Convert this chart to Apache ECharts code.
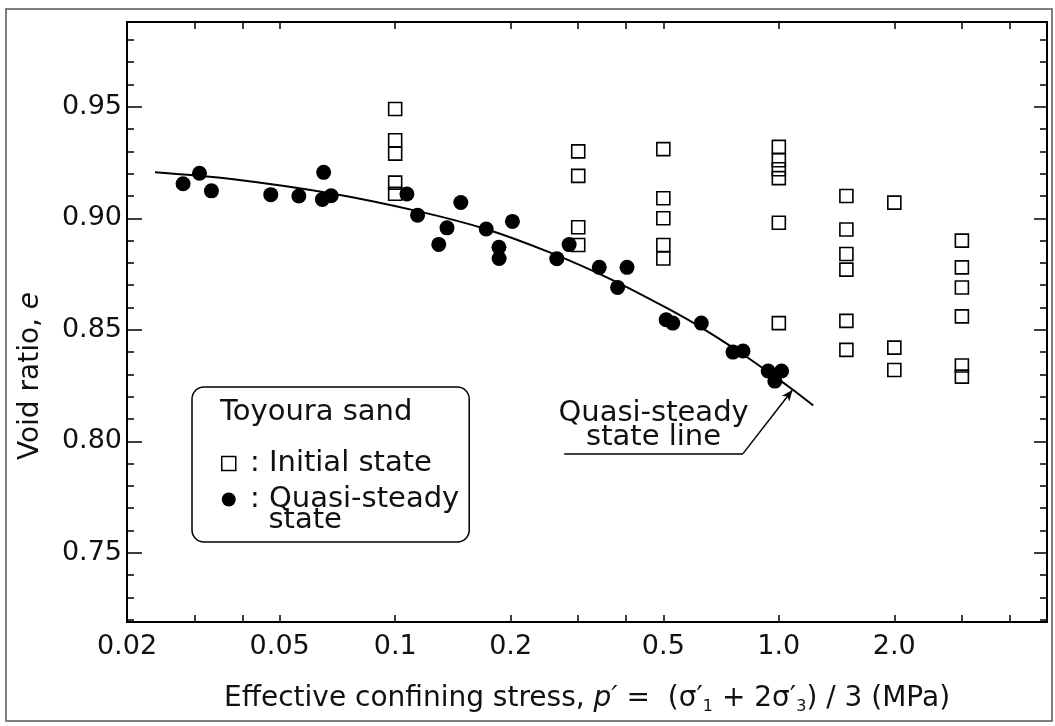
<!DOCTYPE html>
<html>
<head>
<meta charset="utf-8">
<script src="https://cdn.jsdelivr.net/npm/echarts@6/dist/echarts.min.js"></script>
<style>
html, body { margin: 0; padding: 0; background: #fff; }
#chart { width: 1055px; height: 726px; }
</style>
</head>
<body>
<div id="chart"></div>
<script>
// ---------- axes ----------
const xRange = [0.02, 5];
const xTickValues = [0.02, 0.05, 0.1, 0.2, 0.5, 1.0, 2.0];
const xTickLabels = ['0.02', '0.05', '0.1', '0.2', '0.5', '1.0', '2.0'];
const xMinorTickValues = [0.02, 0.03, 0.04, 0.05, 0.1, 0.2, 0.3, 0.4, 0.5, 1, 2, 3, 4];
const yRange = [0.719, 0.988];
const yTickValues = [0.75, 0.80, 0.85, 0.90, 0.95];
const yMinorTickValues = [0.72, 0.73, 0.74, 0.75, 0.76, 0.77, 0.78, 0.79, 0.80, 0.81, 0.82, 0.83, 0.84,
  0.85, 0.86, 0.87, 0.88, 0.89, 0.90, 0.91, 0.92, 0.93, 0.94, 0.95, 0.96, 0.97, 0.98];

// ---------- data ----------
// Initial state (open squares)
const initialP = [0.1, 0.1, 0.1, 0.1, 0.1,
  0.3, 0.3, 0.3, 0.3,
  0.5, 0.5, 0.5, 0.5, 0.5,
  1.0, 1.0, 1.0, 1.0, 1.0, 1.0,
  1.5, 1.5, 1.5, 1.5, 1.5, 1.5,
  2.0, 2.0, 2.0,
  3.0, 3.0, 3.0, 3.0, 3.0, 3.0];
const initialE = [0.949, 0.935, 0.929, 0.916, 0.911,
  0.930, 0.919, 0.896, 0.888,
  0.931, 0.909, 0.900, 0.888, 0.882,
  0.932, 0.926, 0.922, 0.918, 0.898, 0.853,
  0.910, 0.895, 0.884, 0.877, 0.854, 0.841,
  0.907, 0.842, 0.832,
  0.890, 0.878, 0.869, 0.856, 0.834, 0.829];

// Quasi-steady state (filled circles)
const steadyP = [0.028, 0.0309, 0.0332, 0.0474, 0.0561, 0.0651, 0.0646, 0.0681,
  0.1073, 0.1144, 0.1365, 0.1299, 0.1483, 0.1727, 0.1864, 0.1866, 0.2021,
  0.2638, 0.2841, 0.3404, 0.4021, 0.380, 0.5085, 0.5292, 0.628,
  0.7595, 0.8067, 0.938, 1.0165, 0.9763];
const steadyE = [0.9155, 0.9202, 0.9123, 0.9106, 0.910, 0.9206, 0.9084, 0.9101,
  0.9109, 0.9014, 0.8957, 0.8883, 0.9071, 0.8952, 0.887, 0.882, 0.8986,
  0.8819, 0.8882, 0.878, 0.878, 0.869, 0.8545, 0.853, 0.853,
  0.8400, 0.8405, 0.8315, 0.8315, 0.827];

// Quasi-steady state line
const lineP = [0.02366, 0.0374, 0.0683, 0.1144, 0.172, 0.2519, 0.3687, 0.5085, 0.6292, 0.781, 0.976, 1.088, 1.229];
const lineE = [0.9206, 0.9176, 0.9111, 0.9032, 0.8952, 0.8848, 0.8723, 0.8599, 0.8509, 0.8406, 0.829, 0.8231, 0.8161];

// leader of the "Quasi-steady state line" note (underline start, corner, arrow tip)
const leaderP = [0.2757, 0.8065, 1.085];
const leaderE = [0.7945, 0.7945, 0.823];

const legendNames = ['Initial state', 'Quasi-steady state'];
const legendTexts = ['{t| : Initial state}', '{t| }\n{t| : Quasi-steady}\n{t|   state}'];

// ---------- build ----------
const lg = Math.log10;
const toPts = (ps, es) => ps.map((p, i) => [lg(p), es[i]]);
const FONT = '"DejaVu Sans", sans-serif';
const INK = '#111';

function xLabel(v) {
  for (let i = 0; i < xTickValues.length; i++) {
    if (Math.abs(lg(xTickValues[i]) - v) < 1e-6) return xTickLabels[i];
  }
  return '';
}

const xBase = {
  type: 'value', min: lg(xRange[0]), max: lg(xRange[1]),
  splitLine: { show: false },
  axisLine: { show: true, onZero: false, lineStyle: { color: '#000', width: 2 } },
  axisTick: { show: true, inside: true, length: 7, lineStyle: { color: '#000', width: 1.5 },
              customValues: xMinorTickValues.map(lg) },
  axisLabel: { show: false }
};
const yBase = {
  type: 'value', min: yRange[0], max: yRange[1],
  splitLine: { show: false },
  axisLine: { show: true, onZero: false, lineStyle: { color: '#000', width: 2 } },
  axisLabel: { show: false }
};

const option = {
  backgroundColor: '#fff',
  animation: false,
  grid: { left: 127, right: 8, top: 22, bottom: 104, containLabel: false },
  title: {
    text: 'Toyoura sand', left: 220, top: 398, padding: 0,
    textStyle: { fontFamily: FONT, fontSize: 29, fontWeight: 'normal', color: INK }
  },
  legend: {
    orient: 'vertical', left: 192, top: 387,
    padding: [62, 10, 7, 29],
    itemWidth: 14, itemHeight: 14, itemGap: -14,
    borderColor: '#000', borderWidth: 1.5, borderRadius: 12, backgroundColor: '#fff',
    textStyle: {
      fontFamily: FONT, fontSize: 29, color: INK,
      rich: { t: { fontFamily: FONT, fontSize: 29, color: INK, lineHeight: 21 } }
    },
    formatter: name => legendTexts[legendNames.indexOf(name)],
    data: [
      { name: legendNames[0], icon: 'rect', itemStyle: { color: '#fff', borderColor: '#000', borderWidth: 1.5 } },
      { name: legendNames[1], icon: 'circle', itemStyle: { color: '#000', borderWidth: 0 } }
    ]
  },
  xAxis: [
    Object.assign({}, xBase, {
      position: 'bottom',
      axisLabel: {
        show: true, customValues: xTickValues.map(lg), formatter: xLabel,
        margin: 11, fontFamily: FONT, fontSize: 27, color: INK
      },
      name: '{n|Effective confining stress, }{i|p′}{n| =  (σ′}{s|1}{n| + 2σ′}{s|3}{n|) / 3 (MPa)}',
      nameLocation: 'middle', nameGap: 61,
      nameTextStyle: {
        rich: {
          n: { fontFamily: FONT, fontSize: 28, color: INK, lineHeight: 32 },
          i: { fontFamily: FONT, fontSize: 28, color: INK, fontStyle: 'italic', lineHeight: 32 },
          s: { fontFamily: FONT, fontSize: 16, color: INK, verticalAlign: 'bottom', lineHeight: 20 }
        }
      }
    }),
    Object.assign({}, xBase, { position: 'top' })
  ],
  yAxis: [
    Object.assign({}, yBase, {
      position: 'left',
      axisTick: { show: true, inside: true, length: 15, lineStyle: { color: '#000', width: 1.5 },
                  customValues: yTickValues },
      axisLabel: {
        show: true, customValues: yTickValues, formatter: v => v.toFixed(2),
        margin: 5, fontFamily: FONT, fontSize: 27, color: INK
      },
      name: '{a|Void ratio, }{b|e}',
      nameLocation: 'middle', nameGap: 82,
      nameTextStyle: {
        padding: [0, 108, 0, 0],
        rich: {
          a: { fontFamily: FONT, fontSize: 28, color: INK },
          b: { fontFamily: FONT, fontSize: 28, color: INK, fontStyle: 'italic' }
        }
      }
    }),
    Object.assign({}, yBase, {
      position: 'left', axisLine: { show: false, onZero: false },
      axisTick: { show: true, inside: true, length: 7, lineStyle: { color: '#000', width: 1.5 },
                  customValues: yMinorTickValues }
    }),
    Object.assign({}, yBase, {
      position: 'right',
      axisTick: { show: true, inside: true, length: 13, lineStyle: { color: '#000', width: 1.5 },
                  customValues: yTickValues }
    }),
    Object.assign({}, yBase, {
      position: 'right', axisLine: { show: false, onZero: false },
      axisTick: { show: true, inside: true, length: 7, lineStyle: { color: '#000', width: 1.5 },
                  customValues: yMinorTickValues }
    })
  ],
  graphic: [{
    type: 'rect', silent: true, z: -10,
    shape: { x: 6, y: 9, width: 1046, height: 712 },
    style: { fill: 'none', stroke: '#555', lineWidth: 1.5 }
  }],
  series: [
    {
      name: 'Quasi-steady state line', type: 'line',
      data: toPts(lineP, lineE), smooth: 0.3, showSymbol: false, symbol: 'none',
      lineStyle: { color: '#000', width: 2 }, z: 2,
      markLine: {
        silent: true, animation: false, symbol: ['none', 'none'],
        lineStyle: { color: '#000', width: 1.5, type: 'solid' },
        label: { show: false },
        data: [
          [
            { coord: [lg(leaderP[0]), leaderE[0]],
              label: { show: true, position: 'insideMiddleTop', distance: 4,
                       formatter: 'Quasi-steady\nstate line', align: 'center',
                       fontFamily: FONT, fontSize: 29, lineHeight: 24, color: INK } },
            { coord: [lg(leaderP[1]), leaderE[1]] }
          ],
          [
            { coord: [lg(leaderP[1]), leaderE[1]], label: { show: false } },
            { coord: [lg(leaderP[2]), leaderE[2]], symbol: 'arrow', symbolSize: [7, 11] }
          ]
        ]
      }
    },
    {
      name: 'Initial state', type: 'scatter',
      data: toPts(initialP, initialE), symbol: 'rect', symbolSize: 13,
      itemStyle: { color: 'rgba(0,0,0,0)', borderColor: '#000', borderWidth: 1.6, opacity: 1 }, z: 3
    },
    {
      name: 'Quasi-steady state', type: 'scatter',
      data: toPts(steadyP, steadyE), symbol: 'circle', symbolSize: 15,
      itemStyle: { color: '#000', opacity: 1 }, z: 4
    }
  ]
};

const chart = echarts.init(document.getElementById('chart'), null, { renderer: 'canvas' });
chart.setOption(option);
</script>
</body>
</html>
